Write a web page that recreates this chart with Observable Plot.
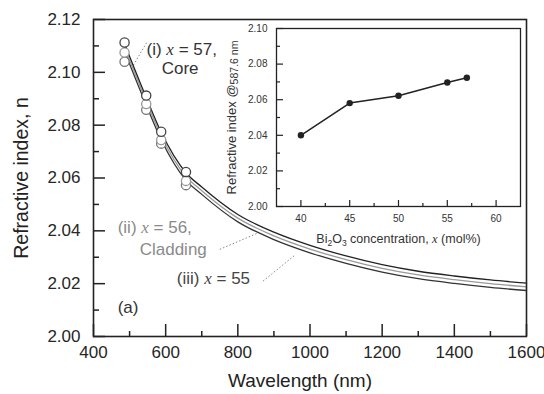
<!DOCTYPE html>
<html><head><meta charset="utf-8">
<script src="https://cdn.jsdelivr.net/npm/d3@7"></script>
<script src="https://cdn.jsdelivr.net/npm/@observablehq/plot@0.6"></script>
<style>
body{margin:0;background:#fff;}
#wrap{position:relative;width:544px;height:394px;overflow:hidden;}
#inset{position:absolute;left:200px;top:20px;}
</style></head><body><div id="wrap"><div id="main"></div><div id="inset"></div></div>
<script>
// ---- Main panel data ----
const wavelengthPts = [486.1, 546.1, 587.6, 656.3];
const ptsCore57 = [2.1113, 2.0912, 2.0775, 2.0623];
const ptsClad56 = [2.1075, 2.0880, 2.0744, 2.0589];
const pts55 = [2.1040, 2.0858, 2.0730, 2.0573];

const wavelengthCurve = [486, 546, 588, 656, 700, 800, 900, 1000, 1100, 1200, 1300, 1400, 1500, 1600];
const curveCore57 = [2.1108, 2.0905, 2.0772, 2.0620, 2.0566, 2.0462, 2.0395, 2.0345, 2.0305, 2.0272, 2.0247, 2.0229, 2.0214, 2.0202];
const curveClad56 = [2.1094, 2.0891, 2.0758, 2.0606, 2.0552, 2.0448, 2.0381, 2.0331, 2.0291, 2.0258, 2.0233, 2.0215, 2.0200, 2.0188];
const curve55 = [2.1080, 2.0877, 2.0744, 2.0592, 2.0538, 2.0434, 2.0367, 2.0317, 2.0277, 2.0244, 2.0219, 2.0201, 2.0186, 2.0174];

const xMajor = [400, 600, 800, 1000, 1200, 1400, 1600];
const xMinor = [500, 700, 900, 1100, 1300, 1500];
const yMajor = [2.00, 2.02, 2.04, 2.06, 2.08, 2.10, 2.12];
const yMinor = [2.01, 2.03, 2.05, 2.07, 2.09, 2.11];

const annotLabels = ["(i) x = 57,", "Core", "(ii) x = 56,", "Cladding", "(iii) x = 55", "(a)"];
const mainXLabel = "Wavelength (nm)";
const mainYLabel = "Refractive index, n";

// ---- Inset data ----
const concentration = [40, 45, 50, 55, 57];
const nAt5876 = [2.0400, 2.0581, 2.0622, 2.0697, 2.0723];
const insetXMajor = [40, 45, 50, 55, 60];
const insetXMinor = [42.5, 47.5, 52.5, 57.5];
const insetYMajor = [2.00, 2.02, 2.04, 2.06, 2.08, 2.10];
const insetYMinor = [2.01, 2.03, 2.05, 2.07, 2.09];
const insetXLabel = "Bi2O3 concentration, x (mol%)";
const insetYLabel = "Refractive index @587.6 nm";

const FONT = "Liberation Sans, Arial, Helvetica, sans-serif";
const SERIF = "Liberation Serif, Times New Roman, serif";

// ---- Main plot ----
const W = 544, H = 394, mL = 93, mR = 18, mT = 19, mB = 58;
const pW = W - mL - mR, pH = H - mT - mB;
const rows = (xs, ys) => xs.map((w, i) => ({w, n: ys[i]}));

const main = Plot.plot({
  width: W, height: H,
  marginLeft: mL, marginRight: mR, marginTop: mT, marginBottom: mB,
  style: {fontFamily: FONT, background: "transparent"},
  x: {domain: [400, 1600]},
  y: {domain: [2.00, 2.12]},
  marks: [
    Plot.ruleX(xMajor, {x: d => d, insetTop: pH - 12, stroke: "#222", strokeWidth: 1.5}),
    Plot.ruleX(xMinor, {x: d => d, insetTop: pH - 5, stroke: "#222", strokeWidth: 1.5}),
    Plot.ruleY(yMajor, {y: d => d, insetRight: pW - 12, stroke: "#222", strokeWidth: 1.5}),
    Plot.ruleY(yMinor, {y: d => d, insetRight: pW - 6, stroke: "#222", strokeWidth: 1.5}),
    Plot.axisX({ticks: xMajor, tickSize: 0, tickPadding: 9, fontSize: 17, fill: "#262626", tickFormat: d => String(d), label: null}),
    Plot.axisY({ticks: yMajor, tickSize: 0, tickPadding: 13, fontSize: 17, fill: "#262626", tickFormat: d => d.toFixed(2), label: null}),
    Plot.text([mainXLabel], {frameAnchor: "bottom", textAnchor: "middle", dx: -10, dy: 44, fontSize: 19, fill: "#222", lineAnchor: "middle"}),
    Plot.text([mainYLabel], {frameAnchor: "left", textAnchor: "middle", rotate: -90, dx: -72, fontSize: 19.5, fill: "#222", lineAnchor: "middle"}),
    // leader lines
    Plot.link([0], {x1: () => 547, y1: () => 2.1112, x2: () => 511, y2: () => 2.1028, stroke: "#888", strokeWidth: 1, strokeDasharray: "1.5,2"}),
    Plot.link([0], {x1: () => 750, y1: () => 2.0330, x2: () => 858, y2: () => 2.0393, stroke: "#888", strokeWidth: 1, strokeDasharray: "1.5,2"}),
    Plot.link([0], {x1: () => 870, y1: () => 2.0210, x2: () => 960, y2: () => 2.0310, stroke: "#888", strokeWidth: 1, strokeDasharray: "1.5,2"}),
    // curves
    Plot.line(rows(wavelengthCurve, curve55), {x: "w", y: "n", curve: "monotone-x", stroke: "#333", strokeWidth: 1.3}),
    Plot.line(rows(wavelengthCurve, curveClad56), {x: "w", y: "n", curve: "monotone-x", stroke: "#999", strokeWidth: 1.3}),
    Plot.line(rows(wavelengthCurve, curveCore57), {x: "w", y: "n", curve: "monotone-x", stroke: "#222", strokeWidth: 1.3}),
    // measured points
    Plot.dot(rows(wavelengthPts, pts55), {x: "w", y: "n", r: 4.6, fill: "white", stroke: "#777", strokeWidth: 1.3}),
    Plot.dot(rows(wavelengthPts, ptsClad56), {x: "w", y: "n", r: 4.6, fill: "white", stroke: "#999", strokeWidth: 1.3}),
    Plot.dot(rows(wavelengthPts, ptsCore57), {x: "w", y: "n", r: 4.6, fill: "white", stroke: "#444", strokeWidth: 1.3}),
    // annotations
    Plot.text([annotLabels[0]], {x: () => 547, y: () => 2.1086, textAnchor: "start", lineAnchor: "middle", fontSize: 17, fill: "#333"}),
    Plot.text([annotLabels[1]], {x: () => 589, y: () => 2.1014, textAnchor: "start", lineAnchor: "middle", fontSize: 17, fill: "#333"}),
    Plot.text([annotLabels[2]], {x: () => 467, y: () => 2.0414, textAnchor: "start", lineAnchor: "middle", fontSize: 17, fill: "#8a8a8a"}),
    Plot.text([annotLabels[3]], {x: () => 528, y: () => 2.0330, textAnchor: "start", lineAnchor: "middle", fontSize: 17, fill: "#8a8a8a"}),
    Plot.text([annotLabels[4]], {x: () => 631, y: () => 2.0220, textAnchor: "start", lineAnchor: "middle", fontSize: 17, fill: "#444"}),
    Plot.text([annotLabels[5]], {x: () => 467, y: () => 2.0110, textAnchor: "start", lineAnchor: "middle", fontSize: 17, fill: "#333"}),
    Plot.frame({stroke: "#222", strokeWidth: 1.6})
  ]
});
document.getElementById("main").appendChild(main);

// ---- Inset plot ----
const iW = 324, iH = 240, iL = 76, iR = 4, iT = 8, iB = 54;
const ipW = iW - iL - iR, ipH = iH - iT - iB;
const inset = Plot.plot({
  width: iW, height: iH,
  marginLeft: iL, marginRight: iR, marginTop: iT, marginBottom: iB,
  style: {fontFamily: FONT, background: "transparent"},
  x: {domain: [37.5, 62.5]},
  y: {domain: [2.00, 2.10]},
  marks: [
    Plot.frame({fill: "white"}),
    Plot.ruleX(insetXMajor, {x: d => d, insetTop: ipH - 6, stroke: "#222", strokeWidth: 1.2}),
    Plot.ruleX(insetXMinor, {x: d => d, insetTop: ipH - 3, stroke: "#222", strokeWidth: 1.2}),
    Plot.ruleY(insetYMajor, {y: d => d, insetRight: ipW - 7, stroke: "#222", strokeWidth: 1.2}),
    Plot.ruleY(insetYMinor, {y: d => d, insetRight: ipW - 4, stroke: "#222", strokeWidth: 1.2}),
    Plot.axisX({ticks: insetXMajor, tickSize: 0, tickPadding: 8, fontSize: 10, fill: "#333", tickFormat: d => String(d), label: null}),
    Plot.axisY({ticks: insetYMajor, tickSize: 0, tickPadding: 9, fontSize: 10, fill: "#333", tickFormat: d => d.toFixed(2), label: null}),
    Plot.text([insetXLabel], {frameAnchor: "bottom", textAnchor: "middle", dy: 32, fontSize: 12.5, fill: "#333", lineAnchor: "middle"}),
    Plot.text([insetYLabel], {frameAnchor: "left", textAnchor: "middle", rotate: -90, dx: -45, fontSize: 13, fill: "#333", lineAnchor: "middle"}),
    Plot.line(rows(concentration, nAt5876), {x: "w", y: "n", stroke: "#222", strokeWidth: 1.5}),
    Plot.dot(rows(concentration, nAt5876), {x: "w", y: "n", r: 3.2, fill: "#222"}),
    Plot.frame({stroke: "#222", strokeWidth: 1.3})
  ]
});
document.getElementById("inset").appendChild(inset);

// ---- rich text (italic variable, subscripts) ----
const ital = `<tspan font-family="${SERIF}" font-style="italic">x</tspan>`;
main.querySelectorAll("text").forEach(el => {
  const t = el.textContent;
  if (/ x = /.test(t)) el.innerHTML = t.replace(" x ", " " + ital + " ");
});
inset.querySelectorAll("text").forEach(el => {
  const t = el.textContent;
  if (t === insetYLabel) {
    el.innerHTML = `Refractive index @<tspan font-size="10.5" dy="2">587.6 nm</tspan>`;
  } else if (t === insetXLabel) {
    el.innerHTML = `Bi<tspan font-size="8.5" dy="3">2</tspan><tspan dy="-3">O</tspan><tspan font-size="8.5" dy="3">3</tspan><tspan dy="-3"> concentration, </tspan>${ital} (mol%)`;
  }
});
</script></body></html>
